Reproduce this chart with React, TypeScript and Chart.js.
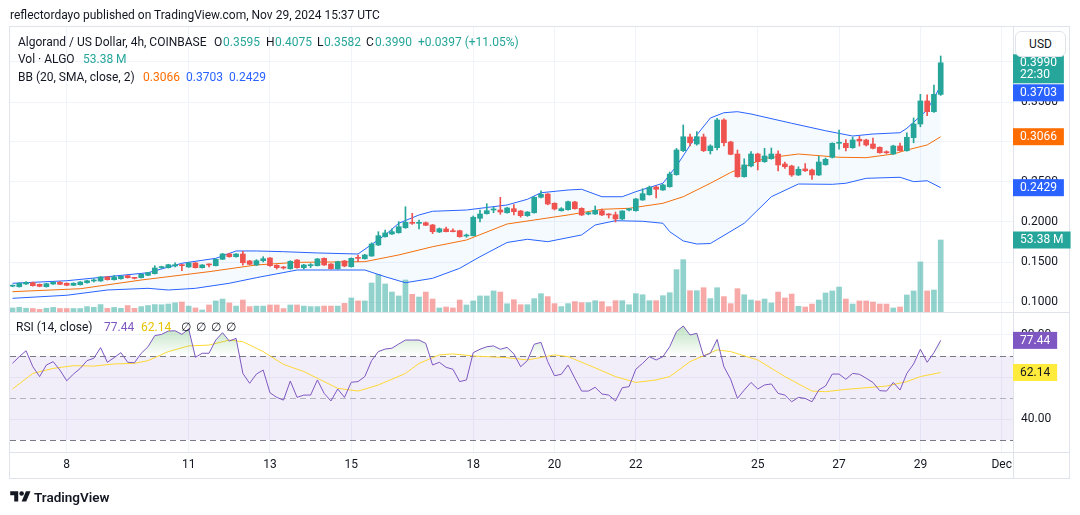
import React, { useEffect, useRef } from 'react';
import { Chart, registerables } from 'chart.js';

Chart.register(...registerables);

// ---------- data (4h candles, index 0 = Nov 7 00:00, one unit = 4 hours) ----------
const FIRST_BAR = -2;

const OPEN = [
  0.1198, 0.1191, 0.1225, 0.1241, 0.1221, 0.1191, 0.1225, 0.1246, 0.1234, 0.1209,
  0.1216, 0.1241, 0.1263, 0.1263, 0.1313, 0.1279, 0.1291, 0.1329, 0.1300, 0.1304,
  0.1334, 0.1354, 0.1430, 0.1429, 0.1450, 0.1466, 0.1438, 0.1488, 0.1429, 0.1470,
  0.1454, 0.1534, 0.1600, 0.1566, 0.1600, 0.1513, 0.1463, 0.1516, 0.1550, 0.1459,
  0.1434, 0.1416, 0.1525, 0.1429, 0.1454, 0.1454, 0.1546, 0.1475, 0.1416, 0.1513,
  0.1441, 0.1550, 0.1541, 0.1575, 0.1713, 0.1816, 0.1850, 0.1866, 0.1929, 0.1996,
  0.1983, 0.1991, 0.1963, 0.1875, 0.1913, 0.1883, 0.1891, 0.1825, 0.1829, 0.2046,
  0.2104, 0.2150, 0.2150, 0.2116, 0.2166, 0.2138, 0.2079, 0.2116, 0.2309, 0.2350,
  0.2234, 0.2141, 0.2154, 0.2250, 0.2171, 0.2100, 0.2100, 0.2141, 0.2096, 0.2091,
  0.2038, 0.2150, 0.2141, 0.2275, 0.2341, 0.2438, 0.2400, 0.2441, 0.2591, 0.2891,
  0.3063, 0.2975, 0.3063, 0.2891, 0.2929, 0.3275, 0.3000, 0.2850, 0.2566, 0.2700,
  0.2850, 0.2754, 0.2791, 0.2850, 0.2725, 0.2700, 0.2588, 0.2663, 0.2650, 0.2588,
  0.2716, 0.2809, 0.2984, 0.2984, 0.2929, 0.3034, 0.3025, 0.2975, 0.2934, 0.2875,
  0.2850, 0.2950, 0.2891, 0.3054, 0.3225, 0.3513, 0.3379, 0.3595,
];
const HIGH = [
  0.1212, 0.1240, 0.1255, 0.1248, 0.1226, 0.1234, 0.1256, 0.1254, 0.1240, 0.1240,
  0.1256, 0.1272, 0.1290, 0.1318, 0.1318, 0.1334, 0.1328, 0.1334, 0.1309, 0.1352,
  0.1372, 0.1454, 0.1448, 0.1472, 0.1491, 0.1472, 0.1494, 0.1494, 0.1468, 0.1478,
  0.1540, 0.1608, 0.1610, 0.1606, 0.1634, 0.1520, 0.1530, 0.1566, 0.1556, 0.1466,
  0.1445, 0.1516, 0.1530, 0.1470, 0.1480, 0.1545, 0.1552, 0.1480, 0.1510, 0.1520,
  0.1552, 0.1588, 0.1595, 0.1740, 0.1879, 0.1900, 0.1916, 0.2004, 0.2191, 0.2109,
  0.2025, 0.2000, 0.1970, 0.1925, 0.1935, 0.1916, 0.1898, 0.1850, 0.2075, 0.2150,
  0.2229, 0.2184, 0.2309, 0.2184, 0.2218, 0.2145, 0.2130, 0.2316, 0.2391, 0.2356,
  0.2240, 0.2180, 0.2263, 0.2258, 0.2178, 0.2125, 0.2200, 0.2163, 0.2105, 0.2125,
  0.2141, 0.2170, 0.2295, 0.2416, 0.2450, 0.2450, 0.2470, 0.2625, 0.2920, 0.3213,
  0.3100, 0.3130, 0.3100, 0.2965, 0.3296, 0.3290, 0.3010, 0.2900, 0.2790, 0.2880,
  0.2860, 0.2921, 0.2925, 0.2890, 0.2750, 0.2710, 0.2690, 0.2730, 0.2660, 0.2820,
  0.2800, 0.2990, 0.3150, 0.3030, 0.3060, 0.3070, 0.3035, 0.3050, 0.2940, 0.2890,
  0.2960, 0.2985, 0.3115, 0.3300, 0.3596, 0.3590, 0.3713, 0.4075,
];
const LOW = [
  0.1190, 0.1186, 0.1220, 0.1198, 0.1190, 0.1186, 0.1220, 0.1216, 0.1203, 0.1204,
  0.1212, 0.1236, 0.1250, 0.1258, 0.1274, 0.1274, 0.1286, 0.1298, 0.1288, 0.1300,
  0.1330, 0.1350, 0.1420, 0.1424, 0.1438, 0.1391, 0.1433, 0.1424, 0.1424, 0.1440,
  0.1450, 0.1530, 0.1560, 0.1560, 0.1459, 0.1465, 0.1455, 0.1500, 0.1445, 0.1412,
  0.1412, 0.1410, 0.1424, 0.1410, 0.1430, 0.1450, 0.1458, 0.1410, 0.1410, 0.1440,
  0.1436, 0.1505, 0.1536, 0.1570, 0.1705, 0.1810, 0.1845, 0.1860, 0.1920, 0.1970,
  0.1915, 0.1955, 0.1855, 0.1868, 0.1875, 0.1875, 0.1810, 0.1810, 0.1825, 0.2000,
  0.2098, 0.2116, 0.2096, 0.2110, 0.2090, 0.2060, 0.2070, 0.2110, 0.2300, 0.2215,
  0.2150, 0.2136, 0.2148, 0.2160, 0.2080, 0.2090, 0.2095, 0.2080, 0.2050, 0.2000,
  0.2030, 0.2140, 0.2135, 0.2270, 0.2335, 0.2300, 0.2395, 0.2435, 0.2585, 0.2880,
  0.2950, 0.2960, 0.2880, 0.2850, 0.2900, 0.2950, 0.2840, 0.2560, 0.2560, 0.2690,
  0.2650, 0.2745, 0.2785, 0.2640, 0.2670, 0.2570, 0.2580, 0.2630, 0.2533, 0.2580,
  0.2710, 0.2800, 0.2909, 0.2890, 0.2920, 0.2950, 0.2950, 0.2915, 0.2860, 0.2855,
  0.2845, 0.2885, 0.2885, 0.2990, 0.3190, 0.3330, 0.3370, 0.3582,
];
const CLOSE = [
  0.1203, 0.1234, 0.1246, 0.1204, 0.1196, 0.1229, 0.1246, 0.1221, 0.1209, 0.1234,
  0.1250, 0.1266, 0.1270, 0.1313, 0.1279, 0.1313, 0.1321, 0.1304, 0.1296, 0.1346,
  0.1366, 0.1425, 0.1436, 0.1466, 0.1466, 0.1454, 0.1488, 0.1429, 0.1463, 0.1463,
  0.1534, 0.1600, 0.1566, 0.1600, 0.1491, 0.1471, 0.1516, 0.1541, 0.1454, 0.1429,
  0.1425, 0.1509, 0.1429, 0.1463, 0.1459, 0.1538, 0.1463, 0.1416, 0.1504, 0.1450,
  0.1546, 0.1546, 0.1588, 0.1725, 0.1829, 0.1863, 0.1879, 0.1941, 0.1996, 0.1983,
  0.1996, 0.1959, 0.1879, 0.1916, 0.1879, 0.1879, 0.1816, 0.1834, 0.2059, 0.2100,
  0.2141, 0.2154, 0.2125, 0.2175, 0.2129, 0.2079, 0.2125, 0.2309, 0.2346, 0.2225,
  0.2163, 0.2166, 0.2254, 0.2166, 0.2088, 0.2116, 0.2146, 0.2088, 0.2088, 0.2038,
  0.2138, 0.2166, 0.2288, 0.2354, 0.2434, 0.2409, 0.2463, 0.2600, 0.2900, 0.3066,
  0.2991, 0.3066, 0.2891, 0.2950, 0.3275, 0.2991, 0.2846, 0.2566, 0.2713, 0.2850,
  0.2754, 0.2825, 0.2850, 0.2713, 0.2691, 0.2588, 0.2659, 0.2641, 0.2588, 0.2750,
  0.2784, 0.2984, 0.2988, 0.2929, 0.3025, 0.3013, 0.2963, 0.2921, 0.2866, 0.2866,
  0.2950, 0.2891, 0.3059, 0.3225, 0.3513, 0.3379, 0.3596, 0.3990,
];
// volume in millions of ALGO
const VOLUME_M = [
  3.0, 3.5, 2.8, 2.6, 2.0, 2.8, 3.4, 2.6, 2.6, 2.6,
  2.6, 4.0, 3.5, 5.5, 2.7, 3.4, 2.7, 4.8, 2.7, 4.0,
  4.8, 5.5, 5.4, 5.9, 6.8, 7.4, 4.4, 3.0, 1.5, 5.2,
  8.2, 9.6, 6.7, 4.4, 8.9, 4.0, 4.4, 4.4, 5.2, 5.2,
  2.5, 5.2, 5.2, 4.4, 4.0, 4.0, 4.4, 4.4, 4.4, 6.4,
  10.4, 8.2, 8.2, 21.5, 27.9, 20.8, 14.8, 11.9, 23.7, 13.1,
  11.1, 14.8, 9.6, 3.0, 3.7, 3.0, 8.9, 5.2, 8.2, 11.9,
  11.9, 15.6, 14.8, 6.1, 9.1, 5.4, 5.4, 9.9, 13.6, 11.4,
  6.2, 4.0, 6.2, 7.7, 6.9, 6.9, 8.4, 7.7, 4.0, 8.4,
  8.4, 5.4, 13.6, 12.8, 8.4, 8.4, 12.1, 14.3, 31.4, 38.8,
  15.8, 15.8, 18.0, 9.9, 18.0, 11.4, 6.2, 17.3, 12.8, 8.9,
  8.2, 9.6, 6.7, 14.8, 10.4, 13.3, 4.2, 3.7, 5.9, 8.9,
  14.1, 15.6, 18.5, 9.6, 5.9, 8.2, 8.2, 7.4, 5.9, 5.9,
  3.0, 3.7, 12.6, 15.6, 37.1, 15.6, 16.3, 53.38,
];
const RSI = [
  66.5, 69.7, 72.5, 64.9, 60.2, 65.7, 67.3, 63.3, 58.2, 61.4,
  64.1, 67.8, 68.9, 74.0, 67.0, 69.2, 71.6, 67.0, 66.8, 71.3,
  74.4, 79.7, 80.3, 81.9, 82.0, 80.3, 82.9, 69.4, 71.3, 71.3,
  77.6, 81.1, 77.1, 78.4, 61.7, 57.0, 61.4, 63.3, 52.5, 50.3,
  49.0, 58.1, 50.3, 51.4, 51.4, 58.6, 52.2, 48.6, 54.3, 50.3,
  57.5, 57.8, 60.2, 67.8, 72.1, 73.3, 73.7, 75.7, 77.6, 77.6,
  77.6, 76.0, 65.7, 67.0, 64.6, 63.7, 57.8, 58.6, 71.6, 73.2,
  74.4, 74.8, 73.2, 74.1, 71.0, 64.9, 67.8, 75.6, 76.5, 67.3,
  60.6, 61.3, 65.7, 59.4, 53.3, 53.3, 55.1, 51.9, 51.4, 48.6,
  54.9, 55.4, 63.7, 66.5, 69.7, 68.1, 69.7, 74.4, 81.6, 84.3,
  80.0, 80.8, 70.0, 71.3, 77.9, 64.9, 58.9, 49.8, 53.8, 57.4,
  54.3, 56.2, 56.7, 52.2, 51.4, 48.2, 50.3, 49.8, 48.2, 53.8,
  55.7, 61.4, 61.4, 58.9, 61.7, 61.3, 59.4, 57.4, 53.5, 53.3,
  57.4, 53.8, 61.7, 66.2, 73.2, 67.0, 71.6, 77.44,
];
const RSI_MA_AT = [-2, 1, 4, 7, 10, 13, 16, 18, 21, 24, 27, 30, 32, 35, 38, 41, 43, 46, 49, 52, 56, 58, 61, 63, 66, 71, 74, 78, 80, 83, 87, 90, 93, 95, 98, 102, 104, 108, 112, 116, 118, 121, 127, 130, 132, 135];
const RSI_MA = [54.3, 61.7, 64.1, 65.4, 65.2, 66.2, 66.5, 67.8, 72.1, 74.8, 75.2, 77.6, 76.8, 72.1, 66.0, 62.6, 59.4, 54.6, 53.3, 56.2, 61.7, 66.5, 70.5, 71.0, 70.0, 69.2, 68.1, 70.5, 69.7, 65.7, 60.2, 57.4, 58.6, 60.2, 67.3, 72.9, 72.1, 68.1, 60.2, 53.3, 53.0, 54.1, 55.7, 57.8, 60.2, 62.14];

const BB_UPPER_AT = [-2, 6, 12, 18, 23, 28, 31, 34, 38, 43, 49, 53, 55, 58, 60, 65, 67, 71, 74, 76, 80, 82, 85, 88, 90, 94, 96, 99, 101, 103, 105, 107, 113, 118, 122, 125, 129, 130, 133, 135];
const BB_UPPER = [0.1234, 0.1266, 0.1316, 0.1366, 0.1484, 0.1546, 0.1638, 0.1638, 0.1629, 0.1613, 0.1600, 0.1838, 0.1984, 0.2088, 0.2134, 0.2150, 0.2171, 0.2213, 0.2284, 0.2366, 0.2400, 0.2409, 0.2316, 0.2316, 0.2379, 0.2484, 0.2700, 0.3088, 0.3300, 0.3366, 0.3379, 0.3350, 0.3234, 0.3141, 0.3075, 0.3100, 0.3116, 0.3171, 0.3400, 0.3703];
const BB_BASIS_AT = [-2, 8, 17, 27, 34, 40, 50, 55, 60, 65, 71, 75, 80, 85, 89, 94, 97, 101, 104, 109, 114, 120, 124, 128, 130, 133, 135];
const BB_BASIS = [0.1129, 0.1166, 0.1275, 0.1379, 0.1463, 0.1496, 0.1504, 0.1588, 0.1691, 0.1775, 0.1975, 0.2025, 0.2088, 0.2159, 0.2171, 0.2234, 0.2316, 0.2484, 0.2619, 0.2796, 0.2850, 0.2809, 0.2804, 0.2850, 0.2900, 0.2963, 0.3066];
const BB_LOWER_AT = [-2, 6, 12, 18, 21, 25, 30, 34, 40, 50, 53, 56, 60, 64, 67, 71, 74, 77, 82, 84, 87, 91, 94, 95, 97, 99, 101, 106, 110, 114, 119, 121, 124, 129, 131, 133, 135];
const BB_LOWER = [0.1046, 0.1084, 0.1150, 0.1171, 0.1150, 0.1171, 0.1234, 0.1304, 0.1400, 0.1400, 0.1316, 0.1241, 0.1296, 0.1421, 0.1566, 0.1744, 0.1784, 0.1754, 0.1838, 0.1963, 0.2016, 0.2009, 0.1984, 0.1879, 0.1763, 0.1725, 0.1731, 0.1984, 0.2316, 0.2475, 0.2471, 0.2484, 0.2546, 0.2559, 0.2504, 0.2516, 0.2429];

const PRICE_TICKS = [0.1, 0.15, 0.2, 0.25, 0.3, 0.35, 0.4];
const RSI_TICKS = [40, 60, 80];
const RSI_LEVELS = [70, 50, 30];
const DAY_TICKS = [6, 24, 36, 48, 66, 78, 90, 108, 120, 132, 144];
const DAY_LABELS = ['8', '11', '13', '15', '18', '20', '22', '25', '27', '29', 'Dec'];
const COUNTDOWN = '22:30';
const CHANGE_TEXT = '+0.0397 (+11.05%)';

// ---------- style ----------
const UP = '#26a69a';
const DOWN = '#ef5350';
const UP_VOL = 'rgba(38,166,154,0.5)';
const DOWN_VOL = 'rgba(239,83,80,0.5)';
const BLUE = '#2962ff';
const ORANGE = '#ff6d00';
const PURPLE = '#7e57c2';
const YELLOW = '#fdd835';
const TEXT = '#131722';
const GRID = '#f0f3fa';
const FRAME = '#e0e3eb';
const FONT = 'Roboto, "Liberation Sans", Arial, sans-serif';

const last = (a: number[]) => a[a.length - 1];

const rsiBandPlugin = {
  id: 'rsiBand',
  beforeDatasetsDraw(chart: any) {
    const s = chart.scales.yRsi;
    const a = chart.chartArea;
    const ctx = chart.ctx;
    const y70 = s.getPixelForValue(RSI_LEVELS[0]);
    const y50 = s.getPixelForValue(RSI_LEVELS[1]);
    const y30 = s.getPixelForValue(RSI_LEVELS[2]);
    ctx.save();
    ctx.fillStyle = 'rgba(126,87,194,0.1)';
    ctx.fillRect(a.left, y70, a.right - a.left, y30 - y70);
    ctx.lineWidth = 1;
    ctx.setLineDash([6, 4]);
    const lines: [number, string][] = [[y70, '#787b86'], [y50, 'rgba(120,123,134,0.5)'], [y30, '#787b86']];
    lines.forEach(([y, c]) => {
      ctx.strokeStyle = c;
      ctx.beginPath();
      ctx.moveTo(a.left, Math.round(y) + 0.5);
      ctx.lineTo(a.right, Math.round(y) + 0.5);
      ctx.stroke();
    });
    ctx.restore();
  },
};

const overlayPlugin = {
  id: 'overlay',
  afterDraw(chart: any) {
    const { ctx, chartArea: a, scales } = chart;
    const yP = scales.yPrice, yR = scales.yRsi, yV = scales.yVol, xs = scales.x;
    ctx.save();
    // frame lines
    ctx.strokeStyle = FRAME;
    ctx.lineWidth = 1;
    const L = a.left - 0.5, R = yP.right - 0.5, T = a.top - 0.5, B = xs.bottom - 0.5;
    ctx.strokeRect(L, T, R - L, B - T);
    ctx.beginPath();
    ctx.moveTo(L, yP.bottom + 0.5); ctx.lineTo(R, yP.bottom + 0.5);
    ctx.moveTo(L, a.bottom + 0.5); ctx.lineTo(R, a.bottom + 0.5);
    ctx.moveTo(a.right + 0.5, T); ctx.lineTo(a.right + 0.5, B);
    ctx.stroke();

    // value labels on the right scale
    ctx.font = '12px ' + FONT;
    ctx.textBaseline = 'middle';
    ctx.textAlign = 'left';
    const x0 = a.right;
    const drawGroup = (items: any[]) => {
      items.sort((p, q) => p.y - q.y);
      let prevBottom = -Infinity;
      items.forEach((it) => {
        const h = it.lines.length > 1 ? 29 : 17;
        let top = it.y - 8.5;
        if (top < prevBottom + 1) top = prevBottom + 1;
        const w = Math.max(...it.lines.map((t: string) => ctx.measureText(t).width)) + 14;
        ctx.fillStyle = it.bg;
        ctx.fillRect(x0, top, w, h);
        ctx.fillStyle = it.fg;
        it.lines.forEach((t: string, k: number) => ctx.fillText(t, x0 + 7, top + 9 + k * 12));
        prevBottom = top + h;
      });
    };
    drawGroup([
      { y: yP.getPixelForValue(last(CLOSE)), lines: [last(CLOSE).toFixed(4), COUNTDOWN], bg: UP, fg: '#fff' },
      { y: yP.getPixelForValue(last(BB_UPPER)), lines: [last(BB_UPPER).toFixed(4)], bg: BLUE, fg: '#fff' },
      { y: yP.getPixelForValue(last(BB_BASIS)), lines: [last(BB_BASIS).toFixed(4)], bg: ORANGE, fg: '#fff' },
      { y: yP.getPixelForValue(last(BB_LOWER)), lines: [last(BB_LOWER).toFixed(4)], bg: BLUE, fg: '#fff' },
      { y: yV.getPixelForValue(last(VOLUME_M)), lines: [last(VOLUME_M).toFixed(2) + ' M'], bg: UP, fg: '#fff' },
    ]);
    drawGroup([
      { y: yR.getPixelForValue(last(RSI)), lines: [last(RSI).toFixed(2)], bg: PURPLE, fg: '#fff' },
      { y: yR.getPixelForValue(last(RSI_MA)), lines: [last(RSI_MA).toFixed(2)], bg: '#ffeb3b', fg: TEXT },
    ]);
    ctx.restore();
  },
};

const Txt = ({ x, y, c = TEXT, s = 12, w = 400, children }: any) => (
  <span
    style={{
      position: 'absolute', left: x, top: y - 9, lineHeight: '18px', fontSize: s,
      color: c, whiteSpace: 'pre', fontWeight: w, fontFamily: FONT,
    }}
  >
    {children}
  </span>
);

export default function App() {
  const ref = useRef<HTMLCanvasElement>(null);

  useEffect(() => {
    document.body.style.margin = '0';
    const canvas = ref.current;
    if (!canvas) return;
    const idx = OPEN.map((_, k) => FIRST_BAR + k);
    const isUp = OPEN.map((o, k) => CLOSE[k] >= o);
    const candleCol = isUp.map((u) => (u ? UP : DOWN));
    const volCol = isUp.map((u) => (u ? UP_VOL : DOWN_VOL));
    const pts = (xs: number[], ys: number[]) => xs.map((x, k) => ({ x, y: ys[k] }));

    const rsiGradient = (c: any) => {
      const ch = c.chart;
      const s = ch.scales && ch.scales.yRsi;
      if (!s || !ch.chartArea) return 'rgba(0,0,0,0)';
      const top = s.getPixelForValue(100);
      const bot = s.getPixelForValue(70);
      if (!Number.isFinite(top) || !Number.isFinite(bot)) return 'rgba(0,0,0,0)';
      const g = ch.ctx.createLinearGradient(0, top, 0, bot);
      g.addColorStop(0, 'rgba(76,175,80,0.75)');
      g.addColorStop(1, 'rgba(76,175,80,0)');
      return g;
    };

    Chart.defaults.font.family = FONT;

    const chart = new Chart(canvas, {
      type: 'bar',
      data: {
        datasets: [
          { type: 'bar', label: 'body', data: idx.map((x, k) => ({ x, y: [OPEN[k], CLOSE[k]] })), backgroundColor: candleCol, barThickness: 5, minBarLength: 1, grouped: false, yAxisID: 'yPrice', order: 0 } as any,
          { type: 'bar', label: 'wick', data: idx.map((x, k) => ({ x, y: [LOW[k], HIGH[k]] })), backgroundColor: candleCol, barThickness: 1, grouped: false, yAxisID: 'yPrice', order: 1 } as any,
          { type: 'line', label: 'upper', data: pts(BB_UPPER_AT, BB_UPPER), borderColor: BLUE, borderWidth: 1, pointRadius: 0, fill: '+1', backgroundColor: 'rgba(33,150,243,0.05)', yAxisID: 'yPrice', order: 2 } as any,
          { type: 'line', label: 'lower', data: pts(BB_LOWER_AT, BB_LOWER), borderColor: BLUE, borderWidth: 1, pointRadius: 0, fill: false, yAxisID: 'yPrice', order: 3 } as any,
          { type: 'line', label: 'basis', data: pts(BB_BASIS_AT, BB_BASIS), borderColor: ORANGE, borderWidth: 1, pointRadius: 0, fill: false, yAxisID: 'yPrice', order: 4 } as any,
          { type: 'bar', label: 'vol', data: idx.map((x, k) => ({ x, y: VOLUME_M[k] })), backgroundColor: volCol, barThickness: 5, grouped: false, yAxisID: 'yVol', order: 5 } as any,
          { type: 'line', label: 'rsiMA', data: pts(RSI_MA_AT, RSI_MA), borderColor: YELLOW, borderWidth: 1, pointRadius: 0, fill: false, yAxisID: 'yRsi', order: 1 } as any,
          { type: 'line', label: 'rsi', data: idx.map((x, k) => ({ x, y: RSI[k] })), borderColor: PURPLE, borderWidth: 1, pointRadius: 0, yAxisID: 'yRsi', order: 0, fill: { target: { value: 70 }, below: 'rgba(0,0,0,0)' }, backgroundColor: rsiGradient } as any,
        ],
      },
      options: {
        animation: false,
        responsive: false,
        maintainAspectRatio: false,
        layout: { padding: { left: 10, top: 27, right: 10, bottom: 36 } },
        plugins: { legend: { display: false }, tooltip: { enabled: false } },
        scales: {
          x: {
            type: 'linear', min: -2.37, max: 145.67, offset: false, position: 'bottom',
            grid: { color: GRID, drawTicks: false, offset: false },
            border: { display: false },
            afterBuildTicks: (s: any) => { s.ticks = DAY_TICKS.map((v) => ({ value: v })); },
            afterFit: (s: any) => { s.height = 27; },
            ticks: {
              autoSkip: false, maxRotation: 0, padding: 6, color: TEXT, font: { size: 12 },
              callback: (v: any) => DAY_LABELS[DAY_TICKS.indexOf(Number(v))] ?? '',
            },
          },
          yPrice: {
            type: 'linear', position: 'right', stack: 'panes', stackWeight: 285,
            min: 0.0875, max: 0.44375, beginAtZero: false,
            grid: { color: GRID, drawTicks: false },
            border: { display: false },
            afterBuildTicks: (s: any) => { s.ticks = PRICE_TICKS.map((v) => ({ value: v })); },
            afterFit: (s: any) => { s.width = 57; },
            ticks: { padding: 8, color: TEXT, font: { size: 12 }, callback: (v: any) => Number(v).toFixed(4) },
          },
          yRsi: {
            type: 'linear', position: 'right', stack: 'panes', stackWeight: 140,
            min: 24.29, max: 90.95, beginAtZero: false,
            grid: { color: GRID, drawTicks: false },
            border: { display: false },
            afterBuildTicks: (s: any) => { s.ticks = RSI_TICKS.map((v) => ({ value: v })); },
            afterFit: (s: any) => { s.width = 57; },
            ticks: { padding: 8, color: TEXT, font: { size: 12 }, callback: (v: any) => Number(v).toFixed(2) },
          },
          yVol: {
            type: 'linear', display: false, min: -103.8, max: 211.3,
          },
        } as any,
      },
      plugins: [rsiBandPlugin, overlayPlugin],
    } as any);

    return () => chart.destroy();
  }, []);

  const lo = last(OPEN).toFixed(4), lh = last(HIGH).toFixed(4), ll = last(LOW).toFixed(4), lc = last(CLOSE).toFixed(4);

  return (
    <div style={{ position: 'relative', width: 1080, height: 515, background: '#fff', overflow: 'hidden' }}>
      <canvas ref={ref} width={1080} height={515} style={{ position: 'absolute', left: 0, top: 0 }} />
      <Txt x={10} y={15}>reflectordayo published on TradingView.com, Nov 29, 2024 15:37 UTC</Txt>

      <Txt x={18} y={42}>Algorand / US Dollar, 4h, COINBASE</Txt>
      <Txt x={214} y={42}>O</Txt><Txt x={223} y={42} c={UP}>{lo}</Txt>
      <Txt x={266} y={42}>H</Txt><Txt x={275} y={42} c={UP}>{lh}</Txt>
      <Txt x={317} y={42}>L</Txt><Txt x={324} y={42} c={UP}>{ll}</Txt>
      <Txt x={366} y={42}>C</Txt><Txt x={375} y={42} c={UP}>{lc}</Txt>
      <Txt x={418} y={42} c={UP}>{CHANGE_TEXT}</Txt>

      <Txt x={18} y={59}>Vol · ALGO</Txt>
      <Txt x={83} y={59} c={UP}>{last(VOLUME_M).toFixed(2) + ' M'}</Txt>

      <Txt x={18} y={77}>BB (20, SMA, close, 2)</Txt>
      <Txt x={143} y={77} c={ORANGE}>{last(BB_BASIS).toFixed(4)}</Txt>
      <Txt x={186} y={77} c={BLUE}>{last(BB_UPPER).toFixed(4)}</Txt>
      <Txt x={229} y={77} c={BLUE}>{last(BB_LOWER).toFixed(4)}</Txt>

      <Txt x={16} y={327}>RSI (14, close)</Txt>
      <Txt x={104} y={327} c={PURPLE}>{last(RSI).toFixed(2)}</Txt>
      <Txt x={141} y={327} c={'#e6c200'}>{last(RSI_MA).toFixed(2)}</Txt>
      <Txt x={181} y={327}>∅</Txt>
      <Txt x={196} y={327}>∅</Txt>
      <Txt x={211} y={327}>∅</Txt>
      <Txt x={226} y={327}>∅</Txt>

      <div
        style={{
          position: 'absolute', left: 1015, top: 31, width: 51, height: 26, boxSizing: 'border-box',
          border: '1px solid ' + FRAME, borderRadius: 6, background: '#fff', fontFamily: FONT,
          fontSize: 12, lineHeight: '24px', textAlign: 'center', color: TEXT,
        }}
      >
        USD
      </div>

      <div style={{ position: 'absolute', left: 10, top: 489, display: 'flex', alignItems: 'center', gap: 3 }}>
        <svg width="21" height="16" viewBox="0 0 36 28">
          <path d="M14 22H7V11H0V4h14v18z" fill={TEXT} />
          <circle cx="20" cy="8" r="4" fill={TEXT} />
          <path d="M28 22h-8l7.5-18h8L28 22z" fill={TEXT} />
        </svg>
        <span style={{ fontFamily: FONT, fontSize: 13.5, fontWeight: 600, color: TEXT }}>TradingView</span>
      </div>
    </div>
  );
}
